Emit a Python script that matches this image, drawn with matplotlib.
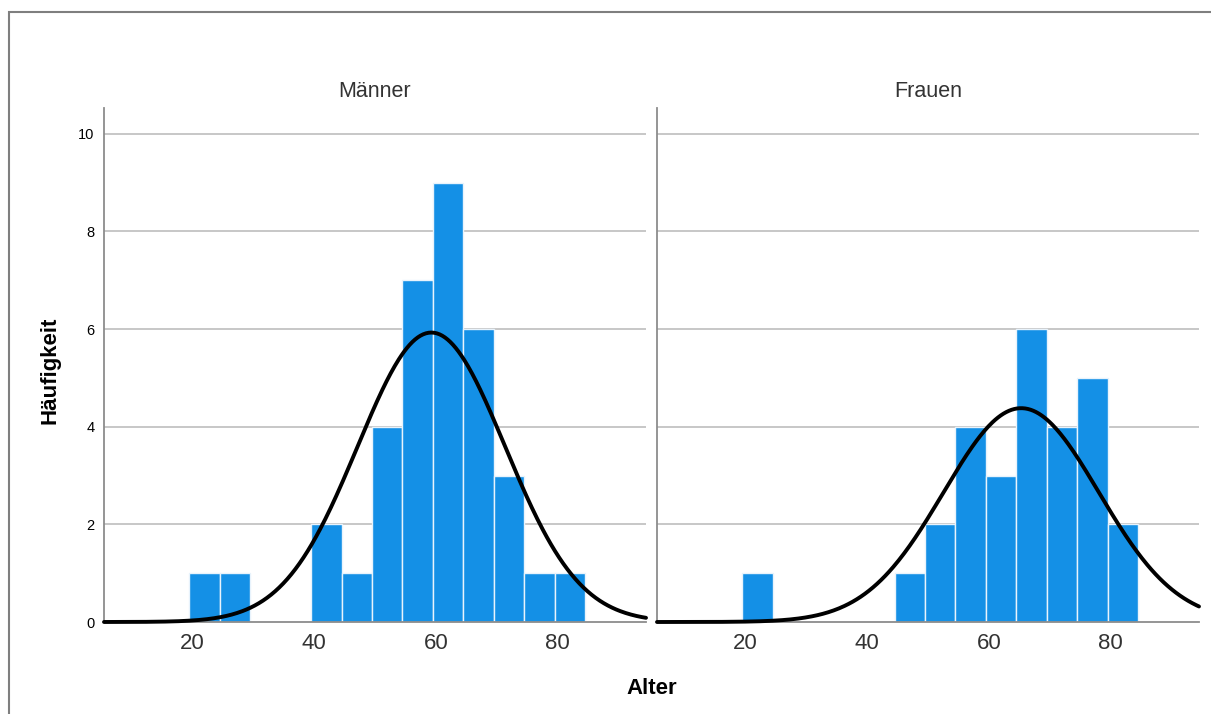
import numpy as np
import matplotlib
matplotlib.use("Agg")
import matplotlib.pyplot as plt
import matplotlib.transforms as mtransforms
from matplotlib.patches import Rectangle

plt.rcParams['font.family'] = ['Liberation Sans', 'DejaVu Sans']

# Klassen (Alter, Breite 5)
bin_left = [20, 25, 30, 35, 40, 45, 50, 55, 60, 65, 70, 75, 80]
bin_width = 5

# Häufigkeiten je Klasse
maenner = [1, 1, 0, 0, 2, 1, 4, 7, 9, 6, 3, 1, 1]
frauen = [1, 0, 0, 0, 0, 1, 2, 4, 3, 6, 4, 5, 2]

# Normalverteilungskurve (Mittelwert, Std.-Abw., N)
maenner_mean, maenner_sd, maenner_n = 59.75, 12.11, 36
frauen_mean, frauen_sd, frauen_n = 65.8, 12.75, 28

panels = [("Männer", maenner, maenner_mean, maenner_sd, maenner_n),
          ("Frauen", frauen, frauen_mean, frauen_sd, frauen_n)]

xticks = [20, 40, 60, 80]
yticks = [0, 2, 4, 6, 8, 10]

bar_color = "#1490e6"
grid_color = "#bdbdbd"
spine_color = "#8c8c8c"
text_color = "#333333"

fig = plt.figure(figsize=(12.11, 7.14), dpi=100)

# Rahmen um die Grafik
fig.patches.append(Rectangle((9 / 1211, -0.05), 1.1, 1 - 12 / 714 + 0.05,
                             transform=fig.transFigure, fill=False,
                             edgecolor="#7f7f7f", linewidth=1.5))

axes_lefts = [104 / 1211, 657 / 1211]
width = 542 / 1211
bottom = 1 - 622 / 714
height = 514 / 714

xmin, xmax = 6, 95
xs = np.linspace(xmin, xmax, 400)
label_shift = mtransforms.ScaledTranslation(3 / 100, 0, fig.dpi_scale_trans)

for i, (title, counts, mu, sd, n) in enumerate(panels):
    ax = fig.add_axes([axes_lefts[i], bottom, width, height])
    ax.set_xlim(xmin, xmax)
    ax.set_ylim(0, 10.53)

    for y in yticks[1:]:
        ax.axhline(y, color=grid_color, linewidth=1.2, zorder=0)

    ax.bar(bin_left, counts, width=bin_width, align="edge", color=bar_color,
           edgecolor="#e8f3fc", linewidth=1.0, zorder=2)

    curve = n * bin_width / (sd * np.sqrt(2 * np.pi)) * np.exp(-0.5 * ((xs - mu) / sd) ** 2)
    ax.plot(xs, curve, color="black", linewidth=2.8, zorder=3,
            solid_capstyle="round", clip_on=False)

    for side in ["top", "right"]:
        ax.spines[side].set_visible(False)
    for side in ["left", "bottom"]:
        ax.spines[side].set_color(spine_color)
        ax.spines[side].set_linewidth(1.3)

    ax.set_xticks(xticks)
    ax.set_xticklabels([str(t) for t in xticks], fontsize=16, color=text_color)
    ax.tick_params(axis="x", length=0, pad=8)
    for lab in ax.get_xticklabels():
        lab.set_transform(lab.get_transform() + label_shift)
    if i == 0:
        ax.set_yticks(yticks)
        ax.set_yticklabels([str(t) for t in yticks], fontsize=10.5, color="black")
        ax.tick_params(axis="y", length=0, pad=7)
    else:
        ax.set_yticks([])

    ax.set_title(title, fontsize=15.5, color=text_color, pad=8)

fig.text(652 / 1211, 1 - 688 / 714, "Alter", fontsize=16, fontweight="bold",
         ha="center", va="center")
fig.text(50 / 1211, 1 - 370 / 714, "Häufigkeit", fontsize=16, fontweight="bold",
         ha="center", va="center", rotation=90)

fig.savefig("out.png", dpi=100)
